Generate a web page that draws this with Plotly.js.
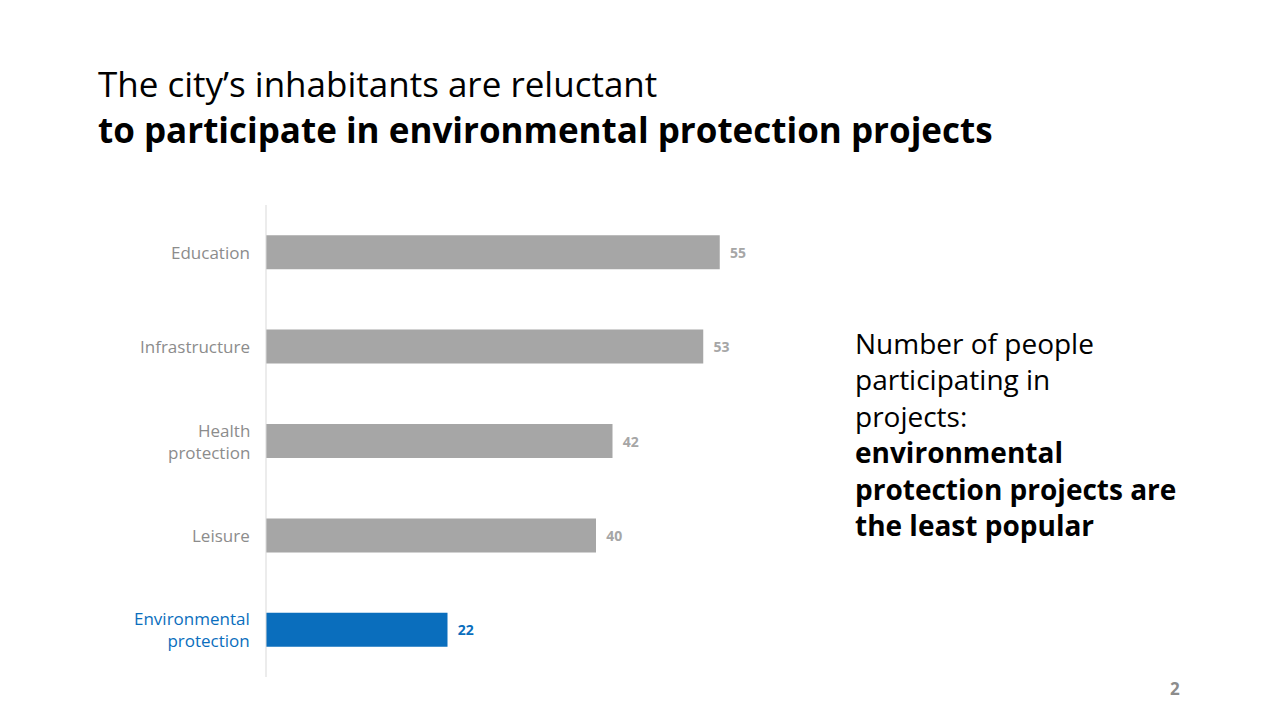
<!DOCTYPE html>
<html><head><meta charset="utf-8">
<script src="https://cdn.plot.ly/plotly-3.0.1.min.js"></script>
<style>body{margin:0;background:#fff}#c{width:1280px;height:720px}</style>
</head><body><div id="c"></div>
<script>
const categories = ["Education","Infrastructure","Health<br>protection","Leisure","Environmental<br>protection"];
const values = [55, 53, 42, 40, 22];
const gray = "#a6a6a6", blue = "#0a6ebd";
const colors = values.map((v,i)=> i===4 ? blue : gray);
const labelColors = values.map((v,i)=> i===4 ? blue : "#8c8c8c");
const valueColors = values.map((v,i)=> i===4 ? blue : "#a6a6a6");
const F = "'Open Sans', 'Noto Sans', sans-serif";
const trace = {
  type:"bar", orientation:"h", y:categories, x:values,
  marker:{color:colors}, width:0.36,
  text:values.map(v=>"  "+v), textposition:"outside", cliponaxis:false,
  textfont:{family:F, size:14, color:valueColors, weight:700},
  hoverinfo:"none"
};
const layout = {
  width:1280, height:720, margin:{l:0,r:0,t:0,b:0},
  paper_bgcolor:"#fff", plot_bgcolor:"#fff", showlegend:false,
  xaxis:{domain:[266/1280, 1], range:[0, 1014/8.25], showgrid:false, zeroline:false, showticklabels:false, fixedrange:true},
  yaxis:{domain:[(720-677)/720, (720-205)/720], autorange:"reversed", showgrid:false, zeroline:false,
         showline:false, showticklabels:false},
  shapes:[{type:"line", xref:"paper", yref:"paper", x0:266/1280, x1:266/1280, y0:43/720, y1:515/720,
           line:{color:"#d9d9d9", width:1}}],
  annotations:[
    {xref:"paper", yref:"paper", x:96/1280, y:1-58/720, xanchor:"left", yanchor:"top", align:"left", showarrow:false,
     text:"The city’s inhabitants are reluctant<br><b>to participate in environmental protection projects</b>",
     font:{family:F, size:35, color:"#000"}},
    {xref:"paper", yref:"paper", x:853/1280, y:1-322/720, xanchor:"left", yanchor:"top", align:"left", showarrow:false,
     text:"Number of people<br>participating in<br>projects:<br><b>environmental<br>protection projects are<br>the least popular</b>",
     font:{family:F, size:28, color:"#000"}},
    {xref:"paper", yref:"paper", x:1182/1280, y:1-688/720, xanchor:"right", yanchor:"middle", showarrow:false,
     text:"<b>2</b>", font:{family:F, size:17, color:"#8c8c8c"}}
  ].concat(categories.map((c,i)=>({xref:"paper", yref:"y", x:252/1280, y:c, xanchor:"right", yanchor:"middle",
     align:"right", showarrow:false, text:c, font:{family:F, size:17, color:labelColors[i]}})))
};
Plotly.newPlot("c",[trace],layout,{displayModeBar:false,staticPlot:true});
</script></body></html>
